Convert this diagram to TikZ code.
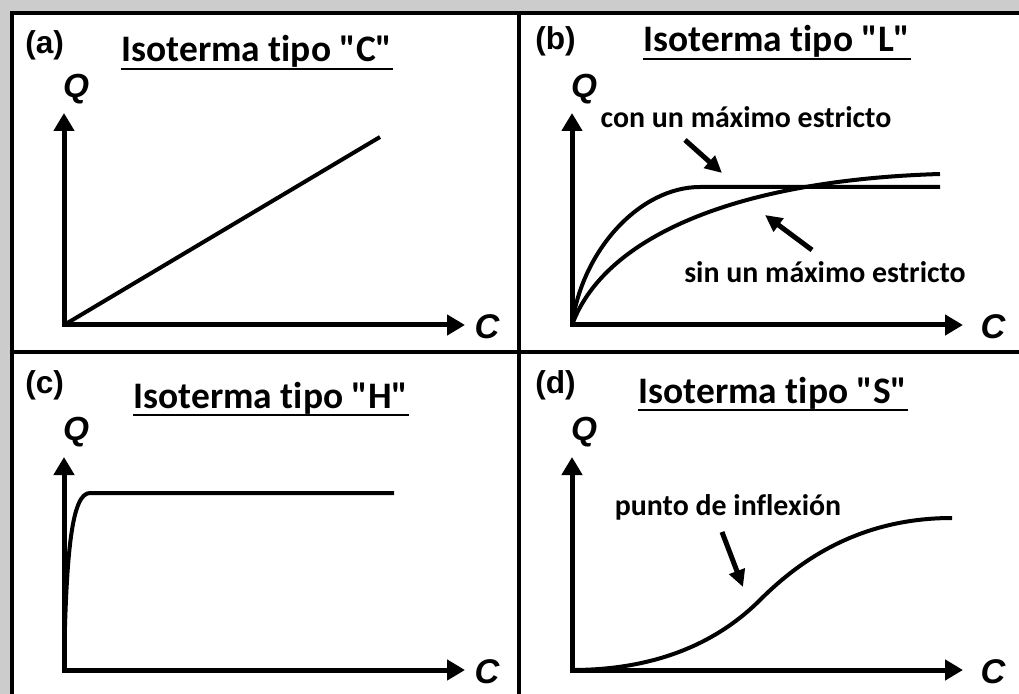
\documentclass[tikz,border=0pt]{standalone}
\usepackage{fontspec}
\setmainfont{Carlito}[Ligatures={TeXOff,NoCommon}]
\newfontfamily\axfont{Liberation Sans}
\usetikzlibrary{arrows.meta}

\tikzset{
  axes/.style={line width=1mm,{Triangle[length=3.6mm,width=4mm]}-{Triangle[length=3.6mm,width=4mm]}},
  isoline/.style={line width=0.8mm},
  frame/.style={line width=0.8mm},
  pointer/.style={line width=1mm,-{Triangle[length=3.4mm,width=3.2mm]}},
  uline/.style={line width=0.45mm},
  panellabel/.style={anchor=base west,inner sep=0pt,font=\axfont\bfseries\fontsize{18}{21}\selectfont},
  isotitle/.style={anchor=base,inner sep=0pt,font=\bfseries\fontsize{21.3}{25}\selectfont},
  note/.style={anchor=base,inner sep=0pt,font=\bfseries\fontsize{17}{20}\selectfont},
  varq/.style={anchor=base,inner sep=0pt,font=\axfont\bfseries\itshape\fontsize{19}{22}\selectfont},
  varc/.style={anchor=base,inner sep=0pt,font=\axfont\bfseries\itshape\fontsize{19.5}{22}\selectfont}
}

\begin{document}
\begin{tikzpicture}[x=0.2mm,y=-0.2mm]
	\useasboundingbox (0,0) rectangle (1019,694);
	\fill[gray!40] (0,0) rectangle (1019,694);
	\fill[white] (12,13) rectangle (1019,694);
	\draw[frame] (12,694) -- (12,13) -- (1019,13);
	\draw[frame] (519,13) -- (519,694);
	\draw[frame] (12,352) -- (1019,352);

	\coordinate (oa) at (64,325);
	\coordinate (ya) at (64,113);
	\coordinate (xa) at (465,325);
	\coordinate (ea) at (380,137);
	\node[panellabel] (la) at (25,54) {(a)};
	\node[isotitle] (ta) at (257,62) {Isoterma tipo "C"};
	\draw[uline] ([yshift=-1.4mm]ta.base west) -- ([yshift=-1.4mm]ta.base east);
	\node[varq] (qa) at (76,98) {Q};
	\node[varc] (ca) at (487,339) {C};
	\draw[axes] (ya) -- (oa) -- (xa);
	\draw[isoline] (oa) -- (ea);

	\coordinate (ob) at (572,325);
	\coordinate (yb) at (572,113);
	\coordinate (xb) at (963,325);
	\coordinate (cs) at (685,140);
	\coordinate (ce) at (722,173);
	\coordinate (ss) at (812,250);
	\coordinate (se) at (765,215);
	\node[panellabel] (lb) at (535,50) {(b)};
	\node[isotitle] (tb) at (777,52) {Isoterma tipo "L"};
	\draw[uline] ([yshift=-1.4mm]tb.base west) -- ([yshift=-1.4mm]tb.base east);
	\node[varq] (qb) at (584,98) {Q};
	\node[varc] (cb) at (993,339) {C};
	\node[note] (con) at (746,128) {con un máximo estricto};
	\node[note] (sin) at (825,283) {sin un máximo estricto};
	\draw[axes] (yb) -- (ob) -- (xb);
	\draw[isoline] (ob) .. controls (582,250) and (640,187) .. (700,187) -- (940,187);
	\draw[isoline] (ob) .. controls (605,235) and (740,180) .. (940,174);
	\draw[pointer] (cs) -- (ce);
	\draw[pointer] (ss) -- (se);

	\coordinate (oc) at (64,670);
	\coordinate (yc) at (64,457);
	\coordinate (xc) at (465,670);
	\node[panellabel] (lc) at (25,393) {(c)};
	\node[isotitle] (tc) at (271,408) {Isoterma tipo "H"};
	\draw[uline] ([yshift=-1.4mm]tc.base west) -- ([yshift=-1.4mm]tc.base east);
	\node[varq] (qc) at (76,440) {Q};
	\node[varc] (cc) at (487,683) {C};
	\draw[axes] (yc) -- (oc) -- (xc);
	\draw[isoline] (oc) .. controls (66,550) and (72,493) .. (90,493) -- (394,493);

	\coordinate (od) at (572,670);
	\coordinate (yd) at (572,457);
	\coordinate (xd) at (963,670);
	\coordinate (is) at (722,532);
	\coordinate (ie) at (743,587);
	\node[panellabel] (ld) at (535,393) {(d)};
	\node[isotitle] (td) at (773,403) {Isoterma tipo "S"};
	\draw[uline] ([yshift=-1.4mm]td.base west) -- ([yshift=-1.4mm]td.base east);
	\node[varq] (qd) at (584,440) {Q};
	\node[varc] (cd) at (993,683) {C};
	\node[note] (infl) at (728,515) {punto de inflexión};
	\draw[axes] (yd) -- (od) -- (xd);
	\draw[isoline] (od) .. controls (660,670) and (720,640) .. (760,600) .. controls (800,560) and (860,518) .. (952,518);
	\draw[pointer] (is) -- (ie);
\end{tikzpicture}
\end{document}
